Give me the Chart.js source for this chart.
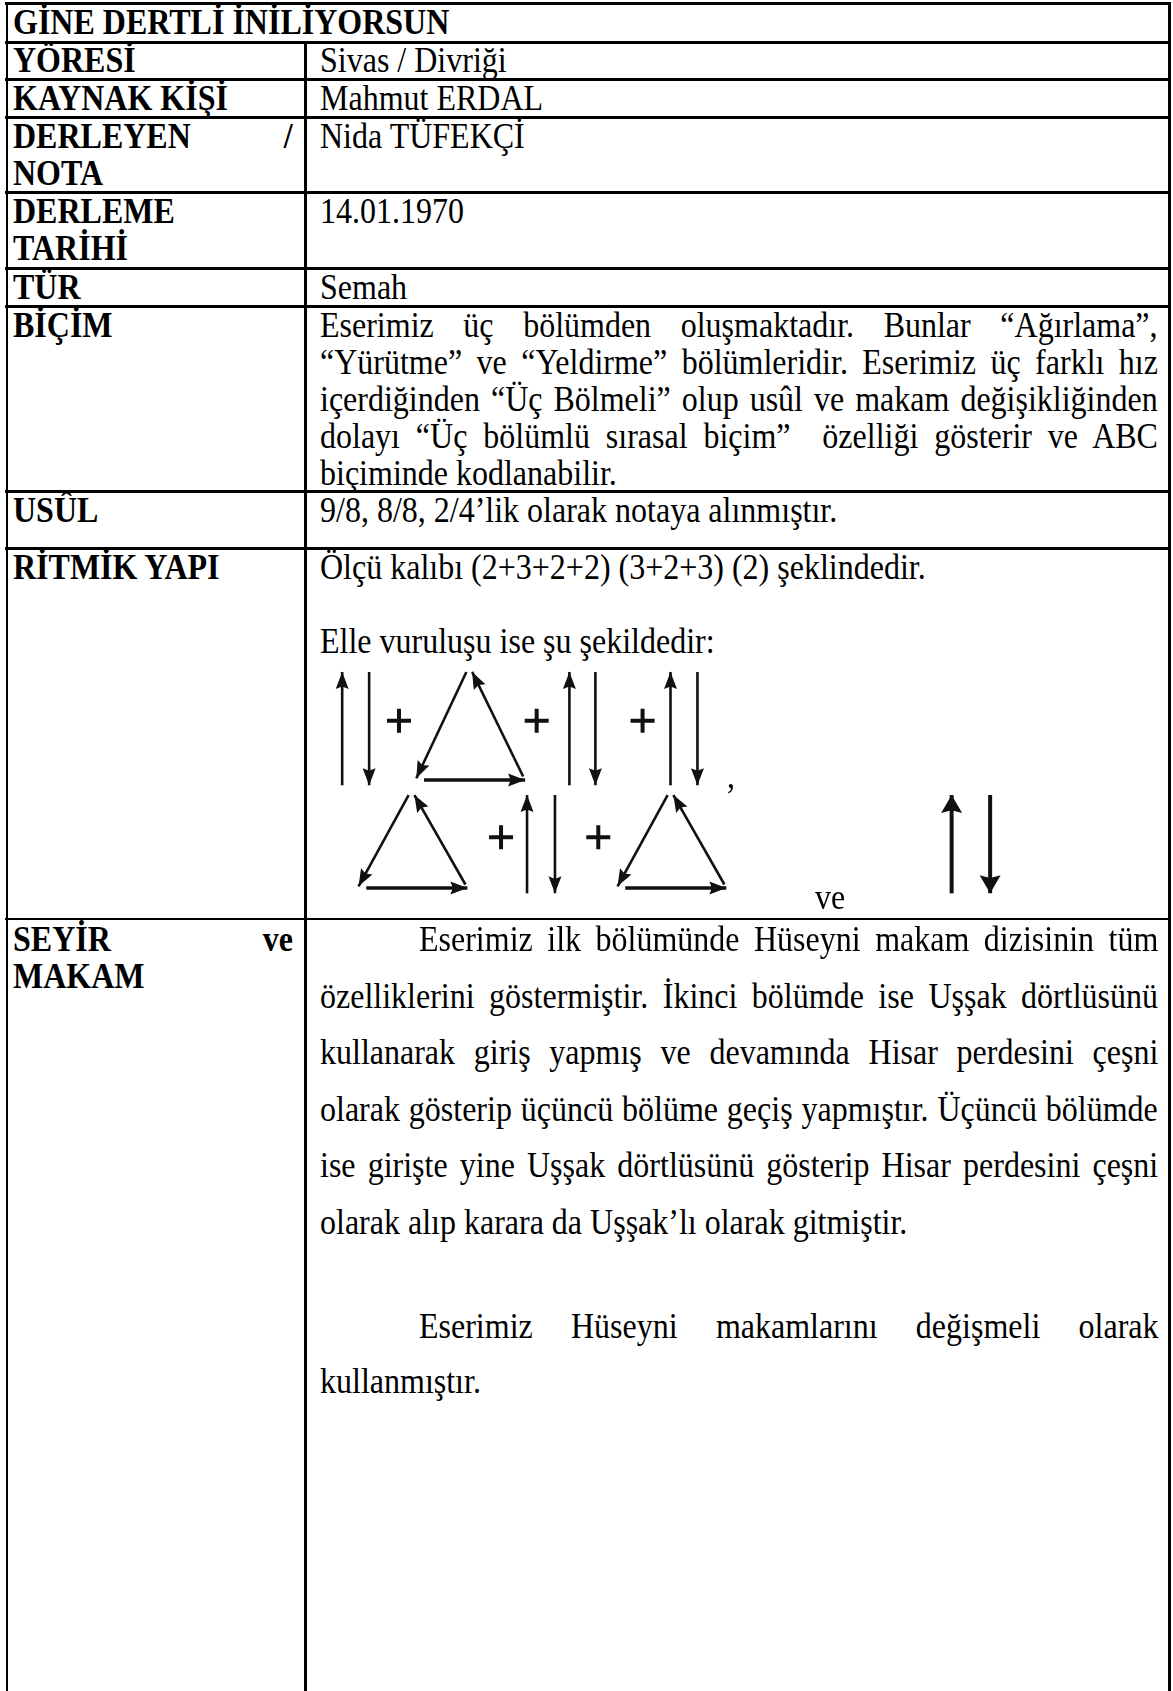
<!DOCTYPE html>
<html lang="tr">
<head>
<meta charset="utf-8">
<title>GİNE DERTLİ İNİLİYORSUN</title>
<script src="https://cdn.jsdelivr.net/npm/chart.js@4.4.1/dist/chart.umd.min.js"></script>
<style>
html, body { margin: 0; padding: 0; background: #fff; }
body {
  width: 1173px; height: 1691px; position: relative; overflow: hidden;
  font-family: "Liberation Serif", "Times New Roman", serif; font-size: 32px; color: #000;
}
.hl { position: absolute; left: 5px; width: 1165px; height: 2.5px; background: #000; }
.vl { position: absolute; width: 2.5px; background: #000; bottom: 0; }
.t { position: absolute; line-height: 37px; white-space: nowrap; transform: scaleY(1.14); transform-origin: 50% 50%; }
.b { font-weight: bold; }
#rhythmBox { position: absolute; left: 305px; top: 640px; width: 860px; height: 280px; }
</style>
</head>
<body>

<!-- table rules -->
<div class="hl" style="top:2px"></div>
<div class="hl" style="top:41px"></div>
<div class="hl" style="top:78px"></div>
<div class="hl" style="top:116px"></div>
<div class="hl" style="top:191px"></div>
<div class="hl" style="top:267px"></div>
<div class="hl" style="top:305px"></div>
<div class="hl" style="top:490px"></div>
<div class="hl" style="top:547px"></div>
<div class="hl" style="top:917.5px"></div>
<div class="vl" style="left:5.5px;top:2px"></div>
<div class="vl" style="left:304px;top:41px"></div>
<div class="vl" style="left:1168px;top:2px"></div>

<!-- left column -->
<div class="t b" style="left:13px;top:4px">GİNE DERTLİ İNİLİYORSUN</div>
<div class="t b" style="left:13px;top:42px">YÖRESİ</div>
<div class="t b" style="left:13px;top:80px">KAYNAK KİŞİ</div>
<div class="t b j" data-w="280" style="left:13px;top:118px">DERLEYEN /</div>
<div class="t b" style="left:13px;top:155px">NOTA</div>
<div class="t b" style="left:13px;top:193px">DERLEME</div>
<div class="t b" style="left:13px;top:230px">TARİHİ</div>
<div class="t b" style="left:13px;top:269px">TÜR</div>
<div class="t b" style="left:13px;top:307px">BİÇİM</div>
<div class="t b" style="left:13px;top:492px">USÛL</div>
<div class="t b" style="left:13px;top:549px">RİTMİK YAPI</div>
<div class="t b j" data-w="280" style="left:13px;top:921px">SEYİR ve</div>
<div class="t b" style="left:13px;top:958px">MAKAM</div>

<!-- right column -->
<div class="t" style="left:320px;top:42px">Sivas / Divriği</div>
<div class="t" style="left:320px;top:80px">Mahmut ERDAL</div>
<div class="t" style="left:320px;top:118px">Nida TÜFEKÇİ</div>
<div class="t" style="left:320px;top:193px">14.01.1970</div>
<div class="t" style="left:320px;top:269px">Semah</div>

<div class="t j" data-w="838" style="left:320px;top:307px">Eserimiz üç bölümden oluşmaktadır. Bunlar “Ağırlama”,</div>
<div class="t j" data-w="838" style="left:320px;top:344px">“Yürütme” ve “Yeldirme” bölümleridir. Eserimiz üç farklı hız</div>
<div class="t j" data-w="838" style="left:320px;top:381px">içerdiğinden “Üç Bölmeli” olup usûl ve makam değişikliğinden</div>
<div class="t j" data-w="838" style="left:320px;top:418px">dolayı “Üç bölümlü sırasal biçim”&nbsp; özelliği gösterir ve ABC</div>
<div class="t" style="left:320px;top:455px">biçiminde kodlanabilir.</div>

<div class="t" style="left:320px;top:492px">9/8, 8/8, 2/4’lik olarak notaya alınmıştır.</div>

<div class="t" style="left:320px;top:549px">Ölçü kalıbı (2+3+2+2) (3+2+3) (2) şeklindedir.</div>
<div class="t" style="left:320px;top:623px">Elle vuruluşu ise şu şekildedir:</div>

<canvas id="rhythmBox" width="860" height="280"></canvas>
<div class="t" style="left:727px;top:758px">,</div>
<div class="t" style="left:815px;top:879px">ve</div>

<div class="t j" data-w="739" style="left:419px;top:921px">Eserimiz ilk bölümünde Hüseyni makam dizisinin tüm</div>
<div class="t j" data-w="838" style="left:320px;top:978px">özelliklerini göstermiştir. İkinci bölümde ise Uşşak dörtlüsünü</div>
<div class="t j" data-w="838" style="left:320px;top:1034px">kullanarak giriş yapmış ve devamında Hisar perdesini çeşni</div>
<div class="t j" data-w="838" style="left:320px;top:1091px">olarak gösterip üçüncü bölüme geçiş yapmıştır. Üçüncü bölümde</div>
<div class="t j" data-w="838" style="left:320px;top:1147px">ise girişte yine Uşşak dörtlüsünü gösterip Hisar perdesini çeşni</div>
<div class="t" style="left:320px;top:1204px">olarak alıp karara da Uşşak’lı olarak gitmiştir.</div>

<div class="t j" data-w="739" style="left:419px;top:1308px">Eserimiz Hüseyni makamlarını değişmeli olarak</div>
<div class="t" style="left:320px;top:1363px">kullanmıştır.</div>

<script>
// === Hand strokes (Elle vuruluşu) ===
// x = stroke centre inside the drawing box, one entry per stroke
const row1Strokes = ['up', 'down', 'plus', 'turn', 'plus', 'up', 'down', 'plus', 'up', 'down'];
const row1X       = [  22,     50,     81,    154,    224,  258,    285,    334,  363,    391];
const row2Strokes = ['turn', 'plus', 'up', 'down', 'plus', 'turn', 'bigUp', 'bigDown'];
const row2X       = [    94,    187,  214,    243,    288,    363,     655,       695];

// vertical extent of each row of strokes
const rowTop    = [18, 157];
const rowBottom = [146, 268];

const thinHead = [17, 6.5];
const bigHead = [18, 10.5];

function segment(x1, y1, x2, y2, width, head) {
  return {
    type: 'line',
    data: [{ x: x1, y: y1 }, { x: x2, y: y2 }],
    borderColor: '#111',
    borderWidth: width,
    pointRadius: 0,
    showLine: true,
    clip: false,
    head: head
  };
}

const datasets = [];
[[row1Strokes, row1X], [row2Strokes, row2X]].forEach(([strokes, xs], r) => {
  const top = rowTop[r], bottom = rowBottom[r];
  strokes.forEach((kind, i) => {
    const x = xs[i];
    if (kind === 'up') datasets.push(segment(x, bottom, x, top, 2.6, thinHead));
    if (kind === 'down') datasets.push(segment(x, top, x, bottom, 2.6, thinHead));
    if (kind === 'bigUp') datasets.push(segment(x, bottom, x, top, 4, bigHead));
    if (kind === 'bigDown') datasets.push(segment(x, top, x, bottom, 4, bigHead));
    if (kind === 'plus') {
      datasets.push({
        type: 'scatter',
        data: [{ x: x, y: top + (bottom - top) * 0.43 }],
        pointStyle: 'cross',
        pointRadius: 12,
        borderWidth: 4,
        borderColor: '#111',
        clip: false
      });
    }
    if (kind === 'turn') {
      // down-left, across, back up to the top
      datasets.push(segment(x - 3, top, x - 55, bottom - 8, 2.6, thinHead));
      datasets.push(segment(x - 47, bottom - 6, x + 58, bottom - 6, 3.4, thinHead));
      datasets.push(segment(x + 56, bottom - 10, x + 3, top, 2.6, thinHead));
    }
  });
});

const arrowHeads = {
  id: 'arrowHeads',
  afterDatasetsDraw(chart) {
    const ctx = chart.ctx;
    chart.data.datasets.forEach((ds, i) => {
      if (!ds.head) return;
      const pts = chart.getDatasetMeta(i).data;
      if (pts.length < 2) return;
      const a = pts[pts.length - 2], b = pts[pts.length - 1];
      const ang = Math.atan2(b.y - a.y, b.x - a.x);
      const [len, half] = ds.head;
      ctx.save();
      ctx.translate(b.x, b.y);
      ctx.rotate(ang);
      ctx.beginPath();
      ctx.moveTo(0, 0);
      ctx.lineTo(-len, -half);
      ctx.lineTo(-len * 0.85, 0);
      ctx.lineTo(-len, half);
      ctx.closePath();
      ctx.fillStyle = '#111';
      ctx.fill();
      ctx.restore();
    });
  }
};

new Chart(document.getElementById('rhythmBox'), {
  type: 'scatter',
  data: { datasets: datasets },
  options: {
    responsive: false,
    animation: false,
    devicePixelRatio: 1,
    layout: { padding: 0 },
    plugins: { legend: { display: false }, tooltip: { enabled: false }, title: { display: false } },
    scales: {
      x: { type: 'linear', min: 0, max: 860, display: false },
      y: { type: 'linear', min: 0, max: 280, reverse: true, display: false }
    }
  },
  plugins: [arrowHeads]
});

// === Justified lines: spread the gaps so each line fills its cell ===
function fitLines() {
  document.querySelectorAll('.j').forEach(el => {
    const w = +el.dataset.w;
    el.style.wordSpacing = '0px';
    const natural = el.offsetWidth;
    const gaps = (el.textContent.match(/[ \u00a0]/g) || []).length;
    if (gaps) el.style.wordSpacing = ((w - natural) / gaps) + 'px';
  });
}
fitLines();
if (document.fonts && document.fonts.ready) document.fonts.ready.then(fitLines);
</script>
</body>
</html>
